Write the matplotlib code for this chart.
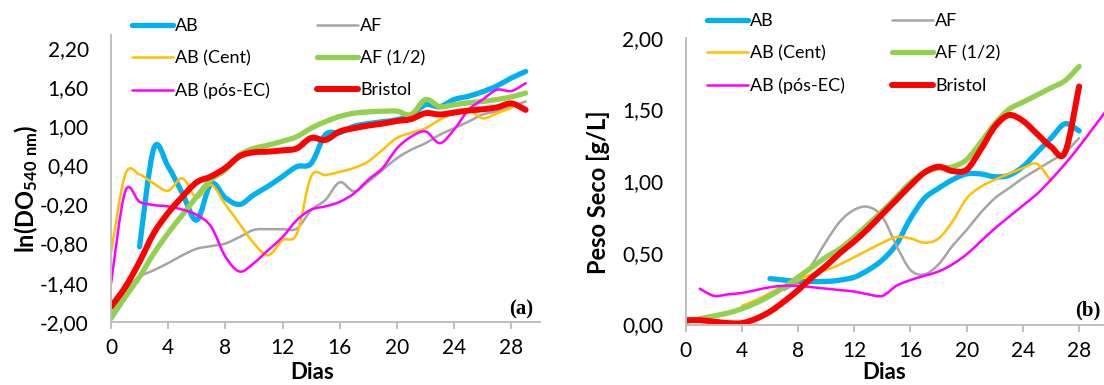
import matplotlib.pyplot as plt
from matplotlib.path import Path
from matplotlib.patches import PathPatch
from matplotlib.lines import Line2D

plt.rcParams['font.family'] = ['Lato', 'DejaVu Sans']
plt.rcParams['mathtext.fontset'] = 'custom'
plt.rcParams['mathtext.bf'] = 'Lato:bold'
plt.rcParams['mathtext.rm'] = 'Lato'

labels = ['AB', 'AF', 'AB (Cent)', 'AF (1/2)', 'AB (pós-EC)', 'Bristol']
colors = ['#00B0F0', '#A5A5A5', '#FFC000', '#92D050', '#FF00FF', '#FF0000']
widths = [3.8, 1.8, 1.8, 3.8, 1.8, 4.3]

# (a) ln(DO540) per day
a_days = [
    list(range(2, 30)),
    list(range(0, 30)),
    list(range(0, 29)),
    list(range(0, 30)),
    list(range(0, 30)),
    list(range(0, 30)),
]
a_ab = [-0.85, 0.66, 0.38, -0.03, -0.44, 0.12, -0.1, -0.2, -0.05, 0.08, 0.23, 0.38,
        0.43, 0.87, 0.9, 1.0, 1.04, 1.07, 1.1, 1.17, 1.33, 1.3, 1.41, 1.46, 1.53, 1.62,
        1.74, 1.84]
a_af = [-1.9, -1.52, -1.31, -1.21, -1.1, -0.98, -0.88, -0.84, -0.8, -0.7, -0.59, -0.58,
        -0.58, -0.57, -0.29, -0.13, 0.14, 0.0, 0.15, 0.33, 0.51, 0.64, 0.74, 0.87, 0.97,
        1.07, 1.18, 1.23, 1.3, 1.38]
a_ab_cent = [-0.95, 0.26, 0.26, 0.12, 0.01, 0.2, -0.1, 0.1, -0.2, -0.5, -0.8, -0.98,
             -0.75, -0.65, 0.23, 0.25, 0.3, 0.36, 0.46, 0.64, 0.82, 0.9, 0.97, 1.1, 1.2,
             1.25, 1.12, 1.2, 1.28]
a_af_half = [-1.95, -1.62, -1.31, -0.95, -0.64, -0.36, -0.08, 0.18, 0.33, 0.56, 0.66,
             0.71, 0.77, 0.84, 0.97, 1.07, 1.15, 1.2, 1.22, 1.23, 1.23, 1.18, 1.41, 1.3,
             1.33, 1.36, 1.38, 1.41, 1.45, 1.51]
a_ab_pos = [-1.42, 0.0, -0.16, -0.21, -0.23, -0.28, -0.36, -0.54, -1.0, -1.23, -1.1,
            -0.9, -0.7, -0.44, -0.28, -0.23, -0.16, -0.03, 0.18, 0.36, 0.66, 0.84, 0.92,
            0.74, 0.95, 1.25, 1.41, 1.56, 1.54, 1.66]
a_bristol = [-1.77, -1.47, -1.08, -0.64, -0.33, -0.08, 0.14, 0.23, 0.36, 0.54, 0.6, 0.61,
             0.63, 0.66, 0.82, 0.79, 0.92, 0.97, 1.01, 1.04, 1.08, 1.11, 1.2, 1.18, 1.21,
             1.24, 1.26, 1.29, 1.35, 1.25]

# (b) dry weight [g/L] per day
b_days = [
    list(range(6, 29)),
    list(range(7, 29)),
    list(range(4, 27)),
    list(range(0, 29)),
    list(range(1, 31)),
    list(range(0, 29)),
]
b_ab = [0.32, 0.31, 0.3, 0.3, 0.3, 0.31, 0.33, 0.38, 0.45, 0.56, 0.74, 0.88, 0.95, 1.01,
        1.05, 1.05, 1.03, 1.04, 1.1, 1.2, 1.3, 1.4, 1.35]
b_af = [0.24, 0.3, 0.42, 0.58, 0.72, 0.8, 0.82, 0.75, 0.55, 0.38, 0.35, 0.42, 0.55, 0.66,
        0.78, 0.88, 0.95, 1.02, 1.08, 1.14, 1.2, 1.3]
b_ab_cent = [0.13, 0.17, 0.22, 0.27, 0.31, 0.35, 0.38, 0.42, 0.47, 0.52, 0.57, 0.61, 0.6,
             0.57, 0.6, 0.72, 0.88, 0.96, 1.01, 1.05, 1.09, 1.12, 1.0]
b_af_half = [0.02, 0.04, 0.06, 0.08, 0.11, 0.15, 0.2, 0.26, 0.33, 0.4, 0.47, 0.53, 0.61,
             0.7, 0.79, 0.89, 0.99, 1.06, 1.09, 1.1, 1.15, 1.27, 1.4, 1.5, 1.55, 1.6,
             1.65, 1.7, 1.8]
b_ab_pos = [0.25, 0.2, 0.21, 0.22, 0.24, 0.26, 0.27, 0.27, 0.26, 0.25, 0.24, 0.23, 0.21,
            0.2, 0.27, 0.31, 0.34, 0.37, 0.42, 0.49, 0.58, 0.67, 0.75, 0.83, 0.91, 1.01,
            1.12, 1.24, 1.37, 1.5]
b_bristol = [0.03, 0.03, 0.02, 0.01, 0.01, 0.04, 0.09, 0.16, 0.24, 0.33, 0.41, 0.5, 0.58,
             0.67, 0.77, 0.87, 0.97, 1.06, 1.1, 1.07, 1.08, 1.22, 1.38, 1.46, 1.42, 1.33,
             1.24, 1.2, 1.66]

a_series = [a_ab, a_af, a_ab_cent, a_af_half, a_ab_pos, a_bristol]
b_series = [b_ab, b_af, b_ab_cent, b_af_half, b_ab_pos, b_bristol]

a_yticks = [-2.0, -1.4, -0.8, -0.2, 0.4, 1.0, 1.6, 2.2]
b_yticks = [0.0, 0.5, 1.0, 1.5, 2.0]
xticks = [0, 4, 8, 12, 16, 20, 24, 28]


def smooth_path(x, y):
    # excel-like smoothed line (catmull-rom as cubic bezier)
    n = len(x)
    verts = [(x[0], y[0])]
    codes = [Path.MOVETO]
    for i in range(n - 1):
        p0 = max(i - 1, 0)
        p3 = min(i + 2, n - 1)
        c1 = (x[i] + (x[i + 1] - x[p0]) / 6, y[i] + (y[i + 1] - y[p0]) / 6)
        c2 = (x[i + 1] - (x[p3] - x[i]) / 6, y[i + 1] - (y[p3] - y[i]) / 6)
        verts += [c1, c2, (x[i + 1], y[i + 1])]
        codes += [Path.CURVE4] * 3
    return Path(verts, codes)


def comma(v):
    return '{:.2f}'.format(v).replace('.', ',')


def draw_panel(ax, days, series, yticks, ylim, ylabel, tag, tag_pos, ylabel_x, xlabel_y):
    for d, s, c, w in zip(days, series, colors, widths):
        patch = PathPatch(smooth_path(d, s), fill=False, edgecolor=c, lw=w,
                          capstyle='round', joinstyle='round')
        ax.add_patch(patch)

    ax.set_xlim(0, 30)
    ax.set_ylim(*ylim)
    ax.set_xticks(xticks)
    ax.set_yticks(yticks)
    ax.set_yticklabels([comma(v) for v in yticks])

    for side in ['top', 'right']:
        ax.spines[side].set_visible(False)
    for side in ['left', 'bottom']:
        ax.spines[side].set_color('#BFBFBF')
        ax.spines[side].set_linewidth(1.4)

    ax.tick_params(axis='x', length=5, width=1.4, color='#BFBFBF', labelsize=15, pad=7)
    ax.tick_params(axis='y', length=0, labelsize=15, pad=16)

    ax.set_ylabel(ylabel, fontsize=17, fontweight='bold', va='center')
    ax.yaxis.set_label_coords(ylabel_x, 0.463)
    ax.set_xlabel('Dias', fontsize=16, fontweight='bold', va='center')
    ax.xaxis.set_label_coords(0.47, xlabel_y)

    ax.text(tag_pos[0], tag_pos[1], tag, transform=ax.transAxes, ha='right', va='center',
            fontsize=15, fontweight='bold', family='Liberation Serif')


fig = plt.figure(figsize=(11.04, 3.85), dpi=100)
ax1 = fig.add_axes([0.1005, 0.1644, 0.3886, 0.7447])
ax2 = fig.add_axes([0.6211, 0.1571, 0.3818, 0.7450])

draw_panel(ax1, a_days, a_series, a_yticks, (-2.0, 2.4), r'$\mathbf{ln(DO_{540\ nm})}$',
           '(a)', (0.984, 0.044), -0.198, -0.178)
draw_panel(ax2, b_days, b_series, b_yticks, (0.0, 2.0), 'Peso Seco [g/L]',
           '(b)', (0.985, 0.05), -0.208, -0.169)

handles = [Line2D([], [], color=c, lw=w, solid_capstyle='round') for c, w in zip(colors, widths)]
# row-wise legend order, two columns
order = [0, 2, 4, 1, 3, 5]
for x0, y0 in [(128 / 1104, 0.963), (703 / 1104, 0.975)]:
    fig.legend([handles[i] for i in order], [labels[i] for i in order], ncol=2,
               loc='upper left', bbox_to_anchor=(x0, y0), frameon=False,
               fontsize=13, handlelength=2.3, handletextpad=0.1,
               columnspacing=2.6, labelspacing=0.9, borderpad=0.2, borderaxespad=0)

fig.savefig('out.png', dpi=100)
